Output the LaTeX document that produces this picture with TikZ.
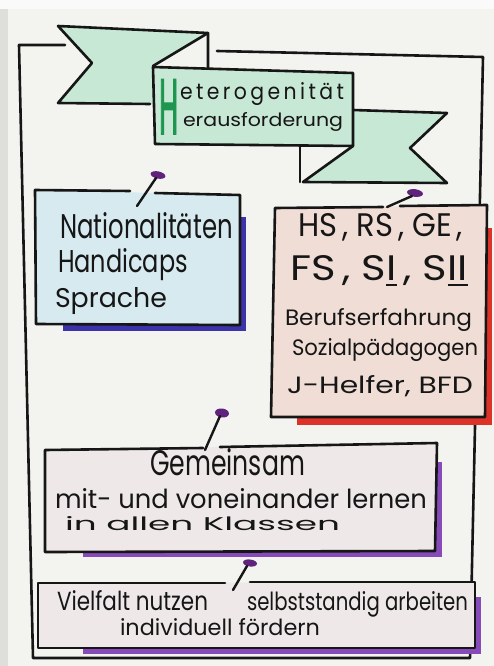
\documentclass[tikz,border=0pt]{standalone}
\usepackage{fontspec}
\newfontfamily\hand{Poppins}
\newfontfamily\handbold[FakeBold=3]{Poppins}
\definecolor{paper}{RGB}{243,243,240}
\definecolor{outside}{RGB}{222,222,219}
\definecolor{ink}{RGB}{22,22,22}
\definecolor{mint}{RGB}{200,232,214}
\definecolor{bluefill}{RGB}{214,234,240}
\definecolor{rosefill}{RGB}{240,222,214}
\definecolor{lightfill}{RGB}{238,232,232}
\definecolor{navy}{RGB}{60,50,170}
\definecolor{redmark}{RGB}{220,50,40}
\definecolor{violet}{RGB}{135,75,185}
\definecolor{pinc}{RGB}{95,35,125}
\definecolor{hgreen}{RGB}{30,150,80}
\newcommand{\hw}[3]{\resizebox{#1pt}{#2pt}{\hand #3}}
\tikzset{
 inkline/.style={draw=ink, line width=2.6pt, line join=round, line cap=round},
 txt/.style={anchor=base west, inner sep=0pt, outer sep=0pt, text=ink},
 stem/.style={draw=ink, line width=2.4pt, line cap=round}
}
\begin{document}
\begin{tikzpicture}[x=1pt,y=-1pt]
\useasboundingbox (0,0) rectangle (494,666);
\fill[outside] (0,0) rectangle (494,666);
\fill[white!96!gray] (0,0) rectangle (494,9);
\fill[paper] (8,9) rectangle (494,666);

% outer frame
\draw[inkline] (65,45) -- (19,45) -- (33,658) -- (470,658) -- (483,57) -- (217,51);

% ribbon: left tail
\fill[mint] (58,26) -- (208,33) -- (153,66) -- (153,104) -- (58,103) -- (92,63) -- cycle;
\draw[inkline] (150,104) -- (58,103) -- (92,63) -- (58,26) -- (208,33) -- (208,68);
\draw[inkline] (208,33) -- (153,66);
% ribbon: right tail
\fill[mint] (353,110) -- (447,113) -- (410,148) -- (447,183) -- (303,182) -- (353,146) -- cycle;
\draw[inkline] (353,110) -- (447,113) -- (410,148) -- (447,183) -- (303,182) -- (353,146);
\draw[inkline] (300,146) -- (300,182);
% ribbon: centre
\fill[mint] (153,67) -- (353,73) -- (353,146) -- (155,144) -- cycle;
\draw[inkline] (153,67) -- (353,73) -- (353,146) -- (155,144) -- cycle;
\node[anchor=south west, inner sep=0pt, text=hgreen] (bigH) at (159,134) {\resizebox{19pt}{54pt}{\handbold H}};
\node[txt] (t1) at (180,100) {\hw{164}{17}{e\,t\,e\,r\,o\,g\,e\,n\,i\,t\,ä\,t}};
\node[txt] (t2) at (183,127) {\hw{160}{14}{erausforderung}};

% blue box
\fill[navy] (236,217) rectangle (246,331);
\fill[navy] (63,322) rectangle (246,331);
\fill[bluefill] (35,190) -- (240,195) -- (240,325) -- (36,324) -- cycle;
\draw[inkline] (130,191) -- (35,190) -- (36,324) -- (240,325) -- (240,195) -- (155,193);
\fill[pinc, rotate around={-12:(158,175)}] (158,175) ellipse [x radius=7.5pt, y radius=3.6pt];
\draw[stem] (156,178) -- (137,206);
\node[txt] (b1) at (60,238) {\hw{173}{26}{Nationalitäten}};
\node[txt] (b2) at (58,272) {\hw{130}{24}{Handicaps}};
\node[txt] (b3) at (55,307) {\hw{112}{20}{Sprache}};

% red box
\fill[redmark] (481,228) rectangle (492,425);
\fill[redmark] (297,414) rectangle (492,425);
\fill[rosefill] (275,208) -- (487,205) -- (485,417) -- (271,417) -- cycle;
\draw[inkline] (383,207) -- (275,208) -- (271,417) -- (485,417) -- (487,205) -- (400,206);
\fill[pinc, rotate around={-8:(415,193)}] (415,193) ellipse [x radius=8pt, y radius=3.8pt];
\draw[stem] (412,196) -- (387,207);
\node[txt] (r1) at (298,236) {\hw{165}{23}{HS\,, RS\,, GE\,,}};
\node[txt] (r2) at (290,280) {\hw{178}{25}{FS\,, S\underline{I}\,, S\underline{II}}};
\node[txt] (r3) at (285,325) {\hw{187}{17}{Berufserfahrung}};
\node[txt] (r4) at (292,355) {\hw{186}{17}{Sozialpädagogen}};
\node[txt] (r5) at (287,393) {\hw{186}{18}{J-Helfer, BFD}};

% Gemeinsam box
\fill[violet] (432,462) rectangle (442,557);
\fill[violet] (83,548) rectangle (442,557);
\fill[lightfill] (45,450) -- (437,443) -- (435,551) -- (45,552) -- cycle;
\draw[inkline] (203,448) -- (45,450) -- (45,552) -- (435,551) -- (437,443) -- (220,447);
\fill[pinc, rotate around={-8:(222,413)}] (222,413) ellipse [x radius=7pt, y radius=4.5pt];
\draw[stem] (220,416) -- (205,450);
\node[txt] (g1) at (150,475) {\hw{155}{27}{Gemeinsam}};
\node[txt] (g2) at (55,508) {\hw{372}{20}{mit- und voneinander lernen}};
\node[txt] (g3) at (65,530) {\hw{275}{14}{in allen Klassen}};

% bottom box
\fill[violet] (471,597) rectangle (481,654);
\fill[violet] (83,645) rectangle (481,654);
\fill[lightfill] (38,583) -- (475,582) -- (475,648) -- (38,648) -- cycle;
\draw[inkline] (225,583) -- (38,583) -- (38,648) -- (475,648) -- (475,582) -- (250,582);
\fill[pinc, rotate around={-8:(250,563)}] (250,563) ellipse [x radius=7pt, y radius=3.5pt];
\draw[stem] (247,566) -- (233,590);
\node[txt] (v1) at (57,610) {\hw{151}{20}{Vielfalt nutzen}};
\node[txt] (v2) at (247,610) {\hw{221}{19}{selbststandig arbeiten}};
\node[txt] (v3) at (120,635) {\hw{200}{17}{individuell fördern}};
\end{tikzpicture}
\end{document}
